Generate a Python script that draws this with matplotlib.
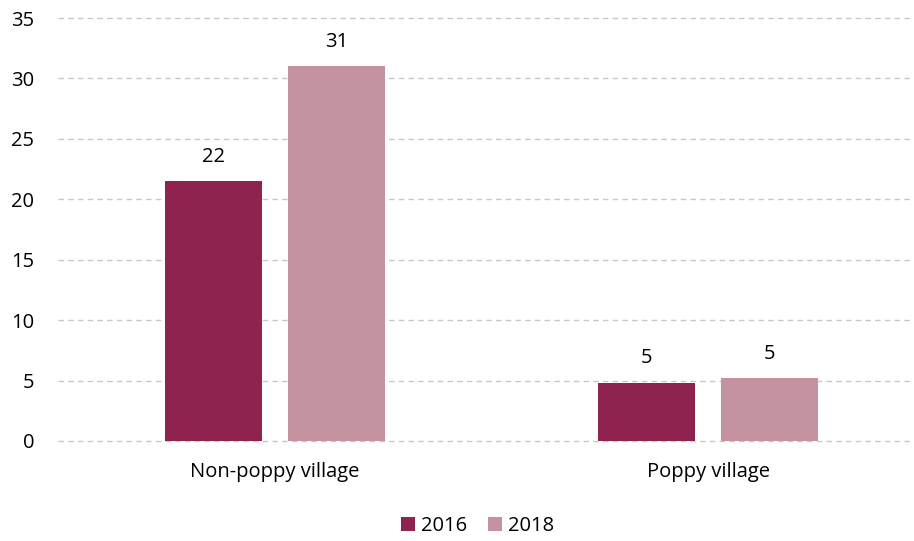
import numpy as np
import matplotlib
matplotlib.use('Agg')
import matplotlib.pyplot as plt

plt.rcParams['font.family'] = ['Open Sans', 'DejaVu Sans']

#==== chart data ====
categories = ['Non-poppy village', 'Poppy village']
years = ['2016', '2018']
vals_2016 = [21.5, 4.8]
vals_2018 = [31.0, 5.2]
colors = ['#8E2350', '#C4939F']

fig = plt.figure(figsize=(9.14, 5.41), dpi=100)
ax = fig.add_axes([58 / 914, 100 / 541, 856 / 914, 423 / 541])

x = np.arange(len(categories))
w = 0.224
off = w / 2 + 0.03
fs = 14.5

for vals, shift, col, lab in [(vals_2016, -off, colors[0], years[0]),
                              (vals_2018, off, colors[1], years[1])]:
    bars = ax.bar(x + shift, vals, width=w, color=col, label=lab, zorder=3)
    for b, v in zip(bars, vals):
        ax.text(b.get_x() + b.get_width() / 2, v + 1.2, '{:.0f}'.format(v),
                ha='center', va='bottom', fontsize=fs, color='#000000')

ax.set_xlim(-0.5, -0.5 + 856 / 433.5)
ax.set_ylim(0, 35)
ax.set_yticks(range(0, 36, 5))
ax.set_xticks(x)
ax.set_xticklabels(categories)
ax.tick_params(axis='both', length=0, labelsize=fs, colors='#000000')
ax.tick_params(axis='x', pad=15)
ax.tick_params(axis='y', pad=17)

ax.yaxis.grid(True, linestyle=(0, (4, 3)), color='#c8c8c8', linewidth=1, zorder=0)
for gl in ax.get_ygridlines():
    gl.set_clip_on(False)
for s in ax.spines.values():
    s.set_visible(False)

ax.legend(loc='center', bbox_to_anchor=(0.49, -0.2), ncol=2, frameon=False,
          fontsize=fs, handlelength=0.7, handleheight=0.7, handletextpad=0.3,
          columnspacing=1.0)

plt.savefig('out.png', dpi=100)
